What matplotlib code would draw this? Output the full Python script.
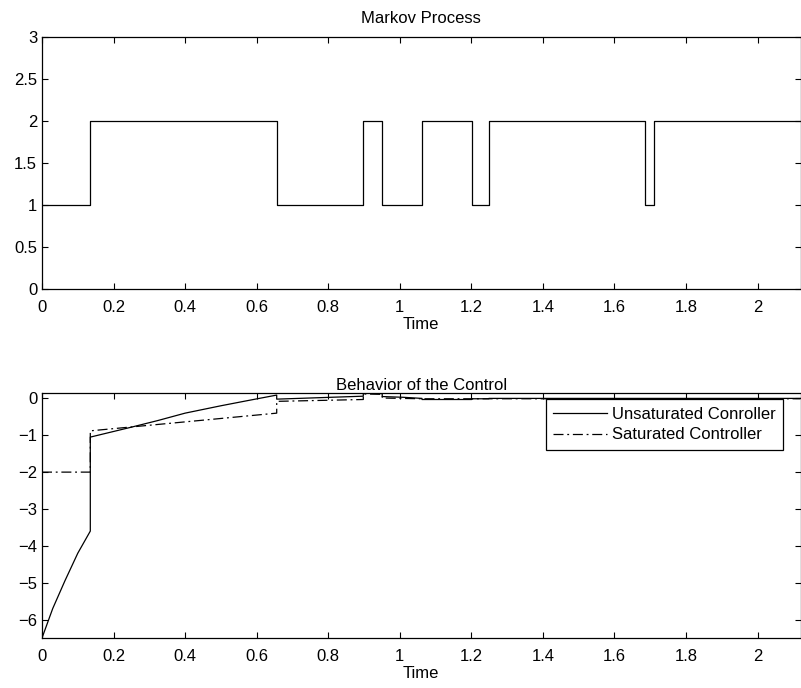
import numpy as np
import matplotlib
matplotlib.use('Agg')
import matplotlib.pyplot as plt
from matplotlib.ticker import FuncFormatter

plt.rcParams['font.family'] = ['Liberation Sans', 'DejaVu Sans']
plt.rcParams['font.size'] = 12

# Markov chain jump times and modes
jump_t = [0, 0.135, 0.656, 0.898, 0.951, 1.062, 1.201, 1.249, 1.686, 1.711, 2.12]
mode = [1, 2, 1, 2, 1, 2, 1, 2, 1, 2, 2]

# control signals (repeated time = jump)
t_unsat = [0, 0.03, 0.064, 0.1, 0.135, 0.135, 0.25, 0.324, 0.4, 0.5, 0.58, 0.656,
           0.656, 0.898, 0.898, 0.951, 0.951, 1.01, 1.062, 1.062, 1.201, 1.201,
           1.249, 1.249, 2.12]
u_unsat = [-6.5, -5.7, -4.95, -4.2, -3.6, -1.05, -0.78, -0.6, -0.4, -0.2, -0.05, 0.09,
           -0.02, 0.06, 0.14, 0.13, 0.05, 0.03, 0.0, -0.03, -0.03, -0.01,
           -0.01, 0.0, 0.0]
t_sat = [0, 0.135, 0.135, 0.255, 0.44, 0.656, 0.656, 0.898, 0.898, 0.951, 0.951,
         1.062, 2.12]
u_sat = [-2, -2, -0.88, -0.77, -0.6, -0.4, -0.08, -0.03, 0.12, 0.11, 0.01,
         -0.01, -0.01]

W, H = 801, 688
fig = plt.figure(figsize=(W / 100, H / 100), dpi=100)

def box(l, r, t, b):
    return [l / W, 1 - b / H, (r - l) / W, (b - t) / H]

def fmt(v, p):
    return ('%g' % round(v, 3)).replace('-', '\u2212')

def style(ax):
    ax.tick_params(direction='in', top=True, right=True, length=4.3, width=0.8,
                   labelsize=12)
    ax.tick_params(axis='x', pad=8)
    ax.tick_params(axis='y', pad=3.5)
    for s in ax.spines.values():
        s.set_linewidth(0.9)
    ax.xaxis.set_major_formatter(FuncFormatter(fmt))
    ax.yaxis.set_major_formatter(FuncFormatter(fmt))
    ax.set_xlim(0, 2.12)
    ax.set_xticks(np.arange(0, 2.01, 0.2))
    ax.set_xlabel('Time', labelpad=1.5)

ax1 = fig.add_axes(box(42, 800.5, 37, 289))
ax1.plot(jump_t, mode, drawstyle='steps-post', color='k', lw=0.9)
ax1.set_ylim(0, 3)
ax1.set_yticks(np.arange(0, 3.01, 0.5))
ax1.set_title('Markov Process', fontsize=12, pad=10)
style(ax1)

ax2 = fig.add_axes(box(42, 800.5, 392.5, 638))
ax2.plot(t_unsat, u_unsat, color='k', lw=0.9, label='Unsaturated Conroller')
ax2.plot(t_sat, u_sat, color='k', lw=0.9, linestyle=(0, (8, 3, 1.5, 3)),
         label='Saturated Controller')
ax2.set_ylim(-6.5, 0.16)
ax2.set_yticks(np.arange(-6, 0.01, 1))
ax2.set_title('Behavior of the Control', fontsize=12, pad=2)
style(ax2)
leg = ax2.legend(loc='upper right', bbox_to_anchor=(0.977, 0.9735), fancybox=False,
                 framealpha=1, edgecolor='k', fontsize=12, handlelength=3.2,
                 borderpad=0.45, labelspacing=0.35, handletextpad=0.3,
                 borderaxespad=0)
leg.get_frame().set_linewidth(0.9)

fig.savefig('out.png', dpi=100)
